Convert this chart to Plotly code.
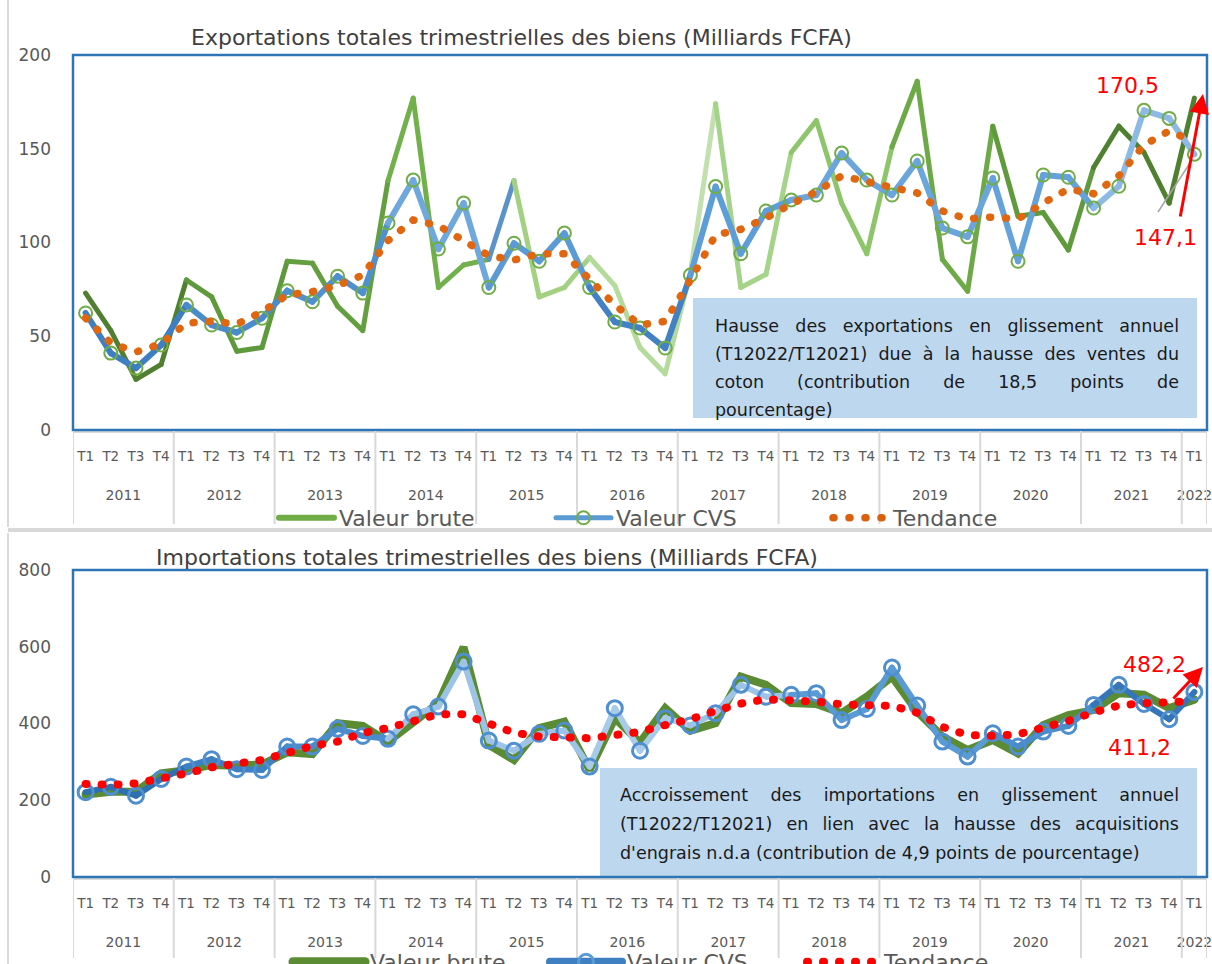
import json
import plotly.graph_objects as go

# ---------------- data ----------------
years = ['2011', '2012', '2013', '2014', '2015', '2016', '2017', '2018', '2019', '2020', '2021', '2022']
quarters = ['T1', 'T2', 'T3', 'T4']

exp_brute = [73, 53, 27, 35, 80, 71, 42, 44, 90, 89, 66, 53,
             133, 177, 76, 88, 91, 133, 71, 76, 92, 77, 44, 30,
             84, 174, 76, 83, 148, 165, 121, 94, 151, 186, 91, 74,
             162, 114, 116, 96, 140, 162, 148, 121, 177]
exp_cvs = [62.4, 41.0, 33.0, 45.3, 66.7, 56.0, 52.0, 59.6, 74.3, 68.4, 82.0, 73.0,
           110.4, 133.3, 96.5, 121.0, 76.0, 99.6, 90.0, 105.0, 76.0, 57.6, 54.4, 43.7,
           82.6, 129.8, 94.0, 116.8, 122.7, 125.3, 147.7, 133.3, 125.3, 143.5, 107.7, 103.0,
           134.4, 90.0, 136.0, 134.8, 118.4, 130.0, 170.5, 166.2, 147.1]
exp_tend = [59.7, 46.4, 41.6, 46.0, 57.0, 58.0, 56.4, 63.0, 72.0, 73.8, 77.0, 82.6,
            101.0, 112.0, 109.0, 101.0, 93.0, 90.7, 94.0, 94.0, 80.5, 66.7, 56.0, 58.0,
            80.0, 104.0, 107.0, 113.0, 120.5, 127.0, 135.5, 132.8, 129.6, 126.4, 116.8, 112.5,
            113.6, 112.5, 121.0, 128.5, 126.0, 135.5, 152.0, 159.5, 153.6]

imp_brute = [215, 222, 222, 270, 278, 292, 290, 293, 325, 320, 401, 394,
             353, 405, 453, 599, 344, 305, 388, 405, 279, 414, 350, 440,
             381, 401, 522, 501, 453, 451, 427, 470, 522, 431, 366, 331,
             357, 322, 396, 422, 435, 479, 475, 440, 462]
imp_cvs = [221, 235, 212, 255.5, 287.7, 307, 281, 279, 340, 340, 386, 367.7,
           360, 424, 444, 561.5, 355.5, 329, 373, 381.5, 287.7, 440, 329, 414,
           395, 427, 500.7, 470, 474.6, 479, 409, 438, 545.8, 446.8, 352.8, 313.7,
           374.6, 339.8, 379, 393.7, 448.5, 500.7, 451, 411.2, 482.2]
imp_tend = [242.5, 240, 244, 255, 270, 286, 294.6, 305, 323, 341.6, 353, 375,
            388.5, 408, 424, 424, 399, 376, 366, 361.6, 361.6, 370, 378, 396,
            411, 433, 452, 463, 461.5, 457, 450, 450, 446, 428, 391, 370,
            367.7, 371.6, 387, 406.8, 429, 447, 453, 456, 458]

labels_exp = ['170,5', '147,1']
labels_imp = ['482,2', '411,2']

title_exp = 'Exportations totales trimestrielles des biens (Milliards FCFA)'
title_imp = 'Importations totales trimestrielles des biens (Milliards FCFA)'
text_exp = ['Hausse des exportations en glissement annuel',
            '(T12022/T12021) due à la hausse des ventes du',
            'coton (contribution de 18,5 points de',
            'pourcentage)']
text_imp = ['Accroissement des importations en glissement annuel',
            '(T12022/T12021) en lien avec la hausse des acquisitions',
            "d'engrais n.d.a (contribution de 4,9 points de pourcentage)"]
series_names = ['Valeur brute', 'Valeur CVS', 'Tendance']

# ---------------- categories ----------------
cat_year, cat_q = [], []
for yr in years[:-1]:
    for q in quarters:
        cat_year.append(yr)
        cat_q.append(q)
cat_year.append(years[-1])
cat_q.append('T1')
idx = list(range(len(cat_q)))
year_centers = [sum(i for i in idx if cat_year[i] == yr) / cat_year.count(yr) for yr in years]
year_bounds = [-0.5] + [i - 0.5 for i in idx[1:] if cat_year[i] != cat_year[i - 1]] + [idx[-1] + 0.5]

# ---------------- styles ----------------
W, H = 1212, 964
FONT = 'DejaVu Sans'
GREY = '#595959'


def px(x):
    return x / W


def py(y):
    return 1 - y / H


brute_top_colors = ['#507F30', '#5E9A3B', '#639F3F', '#72B04B', '#A3D081', '#B5DB9C',
                    '#A6D38A', '#8EC56B', '#6DAA47', '#5F9A3C', '#4F802F', '#3F6B25']
brute_top_override = {16: '#5B92C9', 24: '#C2E0AE'}
cvs_top_colors = ['#3E7FC1', '#4A8CCB', '#4F90CF', '#6FA8DC', '#5B9BD5', '#4282C4',
                  '#5E9ED8', '#6AA6DC', '#6AA6DC', '#64A2D9', '#8DBAE4', '#9DC3E6']
cvs_bot_colors = ['#2E6FB0', '#3F80C2', '#4A8CCB', '#9DC3E6', '#9DC3E6', '#A9CBEA',
                  '#9DC3E6', '#5B9BD5', '#5B9BD5', '#4A8CCB', '#3575B8', '#3575B8']

fig = go.Figure()


def add_segments(vals, colors, width, xa, ya, override=None):
    override = override or {}
    for i in range(len(vals) - 1):
        c = override.get(i, colors[years.index(cat_year[i])])
        fig.add_trace(go.Scatter(
            x=[idx[i], idx[i + 1]], y=[vals[i], vals[i + 1]], mode='lines',
            line=dict(color=c, width=width), showlegend=False, hoverinfo='skip',
            xaxis=xa, yaxis=ya))


# ---- top panel ----
add_segments(exp_brute, brute_top_colors, 5, 'x', 'y', brute_top_override)
add_segments(exp_cvs, cvs_top_colors, 6, 'x', 'y')
fig.add_trace(go.Scatter(x=idx, y=exp_cvs, mode='markers',
                         marker=dict(symbol='circle-open', size=13, color='#70AD47',
                                     line=dict(width=2, color='#70AD47')),
                         showlegend=False, hoverinfo='skip', xaxis='x', yaxis='y'))
fig.add_trace(go.Scatter(x=idx, y=exp_tend, mode='lines',
                         line=dict(color='#E0660F', width=7.5, dash='1px,15px'),
                         showlegend=False, hoverinfo='skip', xaxis='x', yaxis='y'))
# legend entries top
fig.add_trace(go.Scatter(x=[None], y=[None], mode='lines', name=series_names[0],
                         line=dict(color='#70AD47', width=6), legend='legend', xaxis='x3', yaxis='y'))
fig.add_trace(go.Scatter(x=[None], y=[None], mode='lines+markers', name=series_names[1],
                         line=dict(color='#5B9BD5', width=5),
                         marker=dict(symbol='circle-open', size=13, color='#70AD47',
                                     line=dict(width=2, color='#70AD47')),
                         legend='legend', xaxis='x3', yaxis='y'))
fig.add_trace(go.Scatter(x=[None], y=[None], mode='lines', name=series_names[2],
                         line=dict(color='#D9600E', width=7.5, dash='1px,15px'),
                         legend='legend', xaxis='x3', yaxis='y'))

# ---- bottom panel ----
fig.add_trace(go.Scatter(x=idx, y=imp_brute, mode='lines',
                         line=dict(color='#5B8C34', width=8),
                         showlegend=False, hoverinfo='skip', xaxis='x2', yaxis='y2'))
add_segments(imp_cvs, cvs_bot_colors, 6, 'x2', 'y2')
fig.add_trace(go.Scatter(x=idx, y=imp_cvs, mode='markers',
                         marker=dict(symbol='circle-open', size=15, color='#4F8FCF',
                                     line=dict(width=3, color='#4F8FCF')),
                         showlegend=False, hoverinfo='skip', xaxis='x2', yaxis='y2'))
fig.add_trace(go.Scatter(x=idx, y=imp_tend, mode='lines',
                         line=dict(color='#FF0000', width=8, dash='1px,15px'),
                         showlegend=False, hoverinfo='skip', xaxis='x2', yaxis='y2'))
fig.add_trace(go.Scatter(x=[None], y=[None], mode='lines', name=series_names[0],
                         line=dict(color='#5B8C34', width=9), legend='legend2', xaxis='x4', yaxis='y2'))
fig.add_trace(go.Scatter(x=[None], y=[None], mode='lines+markers', name=series_names[1],
                         line=dict(color='#3F80C2', width=8),
                         marker=dict(symbol='circle-open', size=15, color='#5B9BD5',
                                     line=dict(width=3, color='#9DC3E6')),
                         legend='legend2', xaxis='x4', yaxis='y2'))
fig.add_trace(go.Scatter(x=[None], y=[None], mode='lines', name=series_names[2],
                         line=dict(color='#FF0000', width=8, dash='1px,15px'),
                         legend='legend2', xaxis='x4', yaxis='y2'))

XR = [-0.5, idx[-1] + 0.5]
xq = dict(type='linear', range=XR, showgrid=False, zeroline=False, showline=False, ticks='',
          tickmode='array', tickvals=idx, ticktext=cat_q, ticklabelstandoff=16,
          ticklabeloverflow='allow',
          tickfont=dict(family=FONT, size=13.5, color=GREY), fixedrange=True)
xy = dict(type='linear', range=XR, showgrid=False, zeroline=False, showline=False, ticks='',
          tickmode='array', tickvals=year_centers, ticktext=years, ticklabelstandoff=55,
          ticklabeloverflow='allow',
          tickfont=dict(family=FONT, size=14, color=GREY), fixedrange=True, side='bottom')
ycommon = dict(showgrid=False, zeroline=False, showline=False, ticks='',
               tickfont=dict(family=FONT, size=17, color=GREY), ticklabelstandoff=21,
               fixedrange=True)

shapes = [
    # outer chart frames
    dict(type='line', xref='paper', yref='paper', x0=px(8), x1=px(8), y0=py(0), y1=py(527),
         line=dict(color='#D9D9D9', width=2)),
    dict(type='line', xref='paper', yref='paper', x0=px(8), x1=px(8), y0=py(533), y1=py(964),
         line=dict(color='#D9D9D9', width=2)),
    dict(type='line', xref='paper', yref='paper', x0=px(8), x1=1, y0=py(530), y1=py(530),
         line=dict(color='#D9D9D9', width=4)),
    # text boxes
    dict(type='rect', xref='paper', yref='paper', x0=px(693), x1=px(1197), y0=py(418), y1=py(298),
         fillcolor='#BDD7EE', line=dict(width=0), layer='above'),
    dict(type='rect', xref='paper', yref='paper', x0=px(600), x1=px(1197), y0=py(876), y1=py(768),
         fillcolor='#BDD7EE', line=dict(width=0), layer='above'),
    # axis base lines
    dict(type='line', xref='paper', yref='paper', x0=px(73), x1=px(1207), y0=py(432), y1=py(432),
         line=dict(color='#D9D9D9', width=2)),
    dict(type='line', xref='paper', yref='paper', x0=px(73), x1=px(1207), y0=py(879), y1=py(879),
         line=dict(color='#D9D9D9', width=2)),
    # plot frames
    dict(type='rect', xref='paper', yref='paper', x0=px(73), x1=px(1207), y0=py(430), y1=py(55),
         line=dict(color='#2E75B6', width=2.5)),
    dict(type='rect', xref='paper', yref='paper', x0=px(73), x1=px(1207), y0=py(877), y1=py(570),
         line=dict(color='#2E75B6', width=2.5)),
    # grey leader line
    dict(type='line', xref='paper', yref='paper', x0=px(1158), x1=px(1190), y0=py(212), y1=py(163),
         line=dict(color='#A6A6A6', width=1.5)),
]
# year dividers
for b in year_bounds:
    shapes.append(dict(type='line', xref='x', yref='paper', x0=b, x1=b, y0=py(431), y1=py(524),
                       line=dict(color='#D9D9D9', width=2)))
    shapes.append(dict(type='line', xref='x2', yref='paper', x0=b, x1=b, y0=py(878), y1=py(958),
                       line=dict(color='#D9D9D9', width=2)))


def label(text, x, y, size, color):
    return dict(text=text, x=px(x), y=py(y), xref='paper', yref='paper', showarrow=False,
                xanchor='center', yanchor='middle', font=dict(family=FONT, size=size, color=color))


annotations = [
    label(title_exp, 521, 38, 22, '#404040'),
    label(title_imp, 487, 557, 22, '#404040'),
    label(labels_exp[0], 1127, 85, 22, '#FF0000'),
    label(labels_exp[1], 1165, 237, 22, '#FF0000'),
    label(labels_imp[0], 1154, 664, 22, '#FF0000'),
    label(labels_imp[1], 1139, 747, 22, '#FF0000'),
    dict(text='', x=px(1203), y=py(94), xref='paper', yref='paper', showarrow=True,
         ax=-23, ay=124, axref='pixel', ayref='pixel',
         arrowcolor='#FF0000', arrowwidth=3, arrowhead=2, arrowsize=1.3),
    dict(text='', x=px(1203), y=py(667), xref='paper', yref='paper', showarrow=True,
         ax=-31, ay=33, axref='pixel', ayref='pixel',
         arrowcolor='#FF0000', arrowwidth=3, arrowhead=2, arrowsize=1.3),
]
justify = {}
for k, line in enumerate(text_exp):
    if k < len(text_exp) - 1:
        justify[len(annotations)] = 1178 - 714
    annotations.append(dict(text=line, x=px(714), y=py(326 + 28 * k), xref='paper', yref='paper',
                            showarrow=False, xanchor='left', yanchor='middle', align='left',
                            borderpad=0, font=dict(family=FONT, size=17.5, color='#1A1A1A')))
for k, line in enumerate(text_imp):
    if k < len(text_imp) - 1:
        justify[len(annotations)] = 1178 - 619
    annotations.append(dict(text=line, x=px(619), y=py(795 + 29 * k), xref='paper', yref='paper',
                            showarrow=False, xanchor='left', yanchor='middle', align='left',
                            borderpad=0, font=dict(family=FONT, size=17.5, color='#1A1A1A')))

legend_common = dict(orientation='h', xanchor='left', yanchor='middle', bgcolor='rgba(0,0,0,0)',
                     font=dict(family=FONT, size=22, color=GREY), entrywidthmode='pixels',
                     tracegroupgap=0, itemclick=False, itemdoubleclick=False)

fig.update_layout(
    width=W, height=H, template='none',
    paper_bgcolor='white', plot_bgcolor='white',
    margin=dict(l=0, r=0, t=0, b=0, autoexpand=False),
    font=dict(family=FONT, color=GREY),
    showlegend=True,
    xaxis=dict(domain=[px(73), px(1207)], anchor='y', **xq),
    xaxis3=dict(overlaying='x', anchor='y', **xy),
    yaxis=dict(domain=[py(430), py(55)], anchor='x', range=[0, 200], dtick=50, **ycommon),
    xaxis2=dict(domain=[px(73), px(1207)], anchor='y2', **xq),
    xaxis4=dict(overlaying='x2', anchor='y2', **xy),
    yaxis2=dict(domain=[py(877), py(570)], anchor='x2', range=[0, 800], dtick=200, **ycommon),
    legend=dict(x=px(274), y=py(518), itemwidth=55, entrywidth=207, **legend_common),
    legend2=dict(x=px(288), y=py(962), itemwidth=72, entrywidth=170, **legend_common),
    shapes=shapes, annotations=annotations,
)

post = """
document.body.style.margin = '0';
document.body.style.overflow = 'hidden';
var gd = document.getElementById('{plot_id}');
gd.querySelectorAll('path.js-line').forEach(function(p){ p.style.strokeLinecap = 'round'; });
var just = JUSTIFY;
Object.keys(just).forEach(function(k){
  var t = gd.querySelector('g.annotation[data-index="' + k + '"] text.annotation-text');
  if (!t) { return; }
  var n = (t.textContent.match(/ /g) || []).length;
  var cur = t.getComputedTextLength();
  if (n > 0) { t.style.wordSpacing = ((just[k] - cur) / n) + 'px'; }
});
""".replace('JUSTIFY', json.dumps(justify))
fig.write_html('out.html', post_script=post, config={'displayModeBar': False})
